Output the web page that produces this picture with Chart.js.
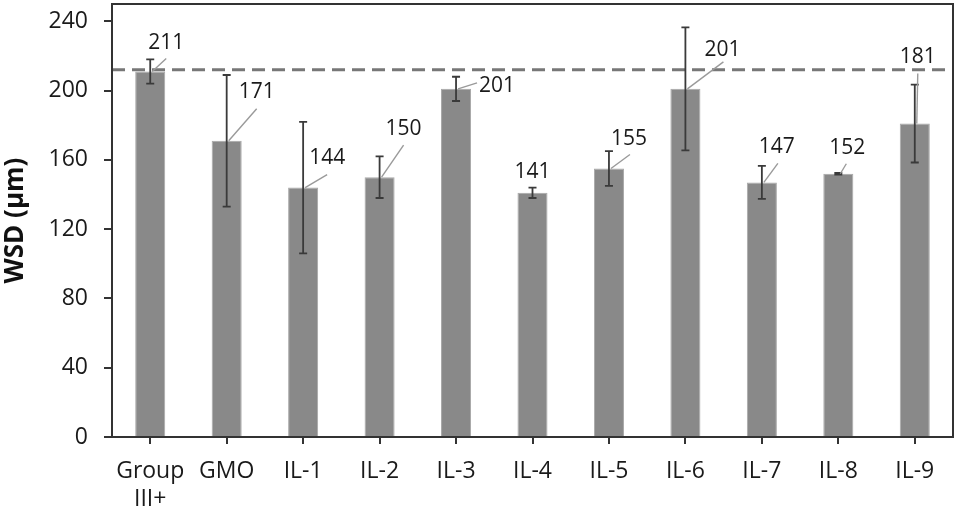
<!DOCTYPE html>
<html>
<head>
<meta charset="utf-8">
<script src="https://cdn.jsdelivr.net/npm/chart.js@4.4.0/dist/chart.umd.min.js"></script>
<style>
  body { margin: 0; background: #fff; }
</style>
</head>
<body>
<canvas id="myChart" width="957" height="517"></canvas>
<script>
// data
const groups = [['Group', 'III+'], 'GMO', 'IL-1', 'IL-2', 'IL-3', 'IL-4', 'IL-5', 'IL-6', 'IL-7', 'IL-8', 'IL-9'];
const wsd = [211, 171, 144, 150, 201, 141, 155, 201, 147, 152, 181];
const sdev = [7, 38, 38, 12, 7, 3, 10, 35.5, 9.5, 0.5, 22.5];
const reference = 212;
const yTicks = [0, 40, 80, 120, 160, 200, 240];

// where each value label sits, px from the top of its bar: [text dx, text dy, leader end dx, leader end dy]
const labelPos = [
    [16, -29, 16, -13],
    [30, -49, 30, -32],
    [24, -30, 24, -13],
    [24, -48, 24, -32],
    [41, -3, 21, -6],
    [0, -21, null, null],
    [20, -30, 21, -14],
    [37, -39, 38, -27],
    [15, -35, 16, -19],
    [9, -26, 8, -10],
    [3, -66, 3, -50]
];

const FONT = "'Open Sans', 'DejaVu Sans', sans-serif";

const extras = {
    id: 'extras',
    afterDatasetsDraw(chart) {
        const ctx = chart.ctx;
        const y = chart.scales.y;
        const a = chart.chartArea;
        const bars = chart.getDatasetMeta(0).data;
        ctx.save();

        // dashed reference line
        const ry = y.getPixelForValue(reference);
        ctx.setLineDash([13, 7]);
        ctx.lineWidth = 3;
        ctx.strokeStyle = '#777';
        ctx.beginPath();
        ctx.moveTo(a.left, ry);
        ctx.lineTo(a.right, ry);
        ctx.stroke();
        ctx.setLineDash([]);

        // error bars
        ctx.strokeStyle = '#3a3a3a';
        ctx.lineWidth = 1.8;
        bars.forEach((bar, i) => {
            const t = y.getPixelForValue(wsd[i] + sdev[i]);
            const b = y.getPixelForValue(wsd[i] - sdev[i]);
            ctx.beginPath();
            ctx.moveTo(bar.x, t); ctx.lineTo(bar.x, b);
            ctx.moveTo(bar.x - 4, t); ctx.lineTo(bar.x + 4, t);
            ctx.moveTo(bar.x - 4, b); ctx.lineTo(bar.x + 4, b);
            ctx.stroke();
        });

        // value labels with leader lines
        ctx.font = '21px ' + FONT;
        ctx.textAlign = 'center';
        ctx.textBaseline = 'middle';
        bars.forEach((bar, i) => {
            const p = labelPos[i];
            if (p[2] !== null) {
                ctx.strokeStyle = '#9a9a9a';
                ctx.lineWidth = 1.4;
                ctx.beginPath();
                ctx.moveTo(bar.x + 2, bar.y);
                ctx.lineTo(bar.x + p[2], bar.y + p[3]);
                ctx.stroke();
            }
            ctx.fillStyle = '#1a1a1a';
            ctx.fillText(String(wsd[i]), bar.x + p[0], bar.y + p[1]);
        });

        // plot frame
        ctx.strokeStyle = '#333';
        ctx.lineWidth = 2;
        ctx.strokeRect(a.left, a.top, a.right - a.left, a.bottom - a.top);
        ctx.restore();
    }
};

const ctx = document.getElementById('myChart').getContext('2d');

const chart = new Chart(ctx, {
    type: 'bar',
    data: {
        labels: groups,
        datasets: [{
            label: 'WSD',
            data: wsd,
            backgroundColor: '#898989',
            borderColor: '#a8a8a8',
            borderWidth: 1,
            barPercentage: 0.393,
            categoryPercentage: 1
        }]
    },
    options: {
        responsive: false,
        animation: false,
        layout: { padding: { top: 4, right: 4, left: 0, bottom: 0 } },
        plugins: {
            legend: { display: false },
            tooltip: { enabled: false }
        },
        scales: {
            x: {
                grid: { drawOnChartArea: false, offset: false, tickLength: 7, color: '#333', lineWidth: 2 },
                border: { color: '#333', width: 2 },
                ticks: { font: { family: FONT, size: 23 }, color: '#1a1a1a', padding: 14, maxRotation: 0, autoSkip: false },
                afterFit: s => {
                    s.height = 80;
                    s.paddingLeft = 0;
                    s.paddingRight = 0;
                }
            },
            y: {
                min: 0,
                max: 250,
                afterBuildTicks: s => { s.ticks = yTicks.map(v => ({ value: v })); },
                grid: { drawOnChartArea: false, tickLength: 8, color: '#333', lineWidth: 2 },
                border: { color: '#333', width: 2 },
                ticks: { font: { family: FONT, size: 23 }, color: '#1a1a1a', padding: 16 },
                title: {
                    display: true,
                    text: 'WSD (µm)',
                    font: { family: FONT, size: 26, weight: 'bold' },
                    color: '#111',
                    padding: { top: 0, bottom: 0 }
                },
                afterFit: s => {
                    s.width = 112;
                    s.paddingTop = 0;
                    s.paddingBottom = 0;
                }
            }
        }
    },
    plugins: [extras]
});
</script>
</body>
</html>
